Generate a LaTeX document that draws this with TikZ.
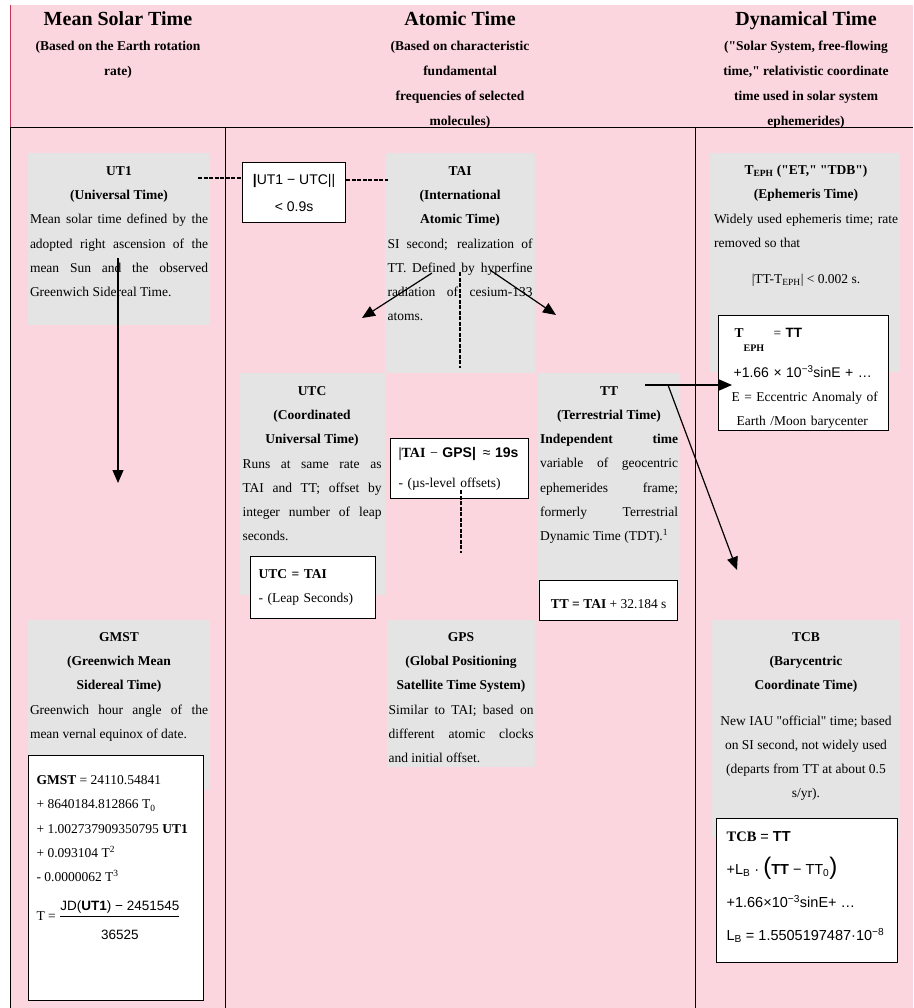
\documentclass[tikz,border=0pt]{standalone}
\usepackage{fontspec}
\setmainfont{Liberation Serif}[Ligatures=TeXOff]
\setsansfont{Liberation Sans}[Ligatures=TeXOff]
\usepackage{xcolor}
\usepackage{tikz}
\usetikzlibrary{arrows.meta, positioning, calc}
\definecolor{sheetpink}{RGB}{251,214,223}
\definecolor{cellgray}{RGB}{228,228,228}
\definecolor{edgered}{RGB}{196,52,88}
\newcommand{\bodysize}{\fontsize{13.5}{24.3}\selectfont}
\newcommand{\headsize}{\fontsize{13.5}{25}\selectfont}
\newcommand{\titlesize}{\fontsize{20}{25}\selectfont}
\newcommand{\bigparen}[1]{{\fontsize{24}{24}\selectfont #1}}
\setlength{\parindent}{0pt}
\setlength{\parskip}{0pt}
\tolerance=10000
\hyphenpenalty=10000

\begin{document}
\begin{tikzpicture}[x=1pt, y=-1pt,
    headtext/.style={anchor=north, align=center, inner sep=0pt, font=\headsize\bfseries},
    celltext/.style={anchor=north, inner sep=0pt, text width=#1, align=justify, font=\bodysize},
    formbox/.style={draw=black, line width=1.2pt, fill=white, anchor=north west, inner sep=0pt, font=\bodysize},
    linkdash/.style={line width=2.8pt, dash pattern=on 4pt off 1.5pt},
    linkarrow/.style={line width=1.2pt, -{Triangle[length=13pt, width=11pt]}}]
    % Sheet and column rules
    \useasboundingbox (0,0) rectangle (913,1008);
    \fill[sheetpink] (10,5) rectangle (913,1008);
    \draw[edgered, line width=1pt] (10,5) -- (10,127);
    \draw[line width=0.8pt] (10,127) -- (913,127);
    \draw[line width=0.8pt] (10,127) -- (10,1008);
    \foreach \x in {225, 695} {
        \draw[line width=0.8pt] (\x,127) -- (\x,1008);
    }

    % Column heads
    \node[headtext] (solarhead) at (118,11) {{\titlesize Mean Solar Time}\\(Based on the Earth rotation\\rate)};
    \node[headtext] (atomichead) at (460,11) {{\titlesize Atomic Time}\\(Based on characteristic\\fundamental\\frequencies of selected\\molecules)};
    \node[headtext] (dynhead) at (806,11) {{\titlesize Dynamical Time}\\("Solar System, free-flowing\\time," relativistic coordinate\\time used in solar system\\ephemerides)};

    % Grey cells
    \foreach \xa/\ya/\xb/\yb in {28/153/210/325, 385/153/535/373, 710/153/900/372,
        240/373/385/595, 538/373/680/595, 28/620/210/790, 387/620/535/767, 712/620/900/838} {
        \fill[cellgray] (\xa,\ya) rectangle (\xb,\yb);
    }

    % Cell texts
    \node[celltext=178pt] (ut1) at (119,166) {{\centering\textbf{UT1}\par\textbf{(Universal Time)}\par}
        Mean solar time defined by the\linebreak adopted right ascension of the\linebreak mean Sun and the observed\linebreak Greenwich Sidereal Time.};
    \node[celltext=145pt] (tai) at (460,166) {{\centering\textbf{TAI}\par\textbf{(International}\par\textbf{Atomic Time)}\par}
        SI second; realization of\linebreak TT. Defined by hyperfine\linebreak radiation of cesium-133\linebreak atoms.};
    \node[celltext=184pt] (teph) at (806,165) {{\centering\textbf{T\textsubscript{EPH} ("ET," "TDB")}\par\textbf{(Ephemeris Time)}\par}
        Widely used ephemeris time; rate\linebreak removed so that\par
        \vspace{12pt}{\centering |TT-T\textsubscript{EPH}| < 0.002 s.\par}};
    \node[celltext=139pt] (utc) at (312,386) {{\centering\textbf{UTC}\par\textbf{(Coordinated}\par\textbf{Universal Time)}\par}
        Runs at same rate as\linebreak TAI and TT; offset by\linebreak integer number of leap\linebreak seconds.};
    \node[celltext=138pt] (tt) at (609,386) {{\centering\textbf{TT}\par\textbf{(Terrestrial Time)}\par}
        \textbf{Independent time}\linebreak variable of geocentric\linebreak ephemerides frame;\linebreak formerly Terrestrial\linebreak Dynamic Time (TDT).\textsuperscript{1}};
    \node[celltext=178pt] (gmst) at (119,632) {{\centering\textbf{GMST}\par\textbf{(Greenwich Mean}\par\textbf{Sidereal Time)}\par}
        Greenwich hour angle of the\linebreak mean vernal equinox of date.};
    \node[celltext=145pt] (gps) at (461,632) {{\centering\textbf{GPS}\par\textbf{(Global Positioning}\par\textbf{Satellite Time System)}\par}
        Similar to TAI; based on\linebreak different atomic clocks\linebreak and initial offset.};
    \node[celltext=184pt] (tcb) at (806,632) {{\centering\textbf{TCB}\par\textbf{(Barycentric}\par\textbf{Coordinate Time)}\par}
        \vspace{11pt}{\centering New IAU "official" time; based\par on SI second, not widely used\par (departs from TT at about 0.5\par s/yr).\par}};

    % Relation boxes
    \node[formbox, minimum width=103pt, minimum height=60pt, align=center,
          font=\sffamily\fontsize{14}{27}\selectfont] (ut1utc) at (242,162)
          {{\bfseries|}UT1 − UTC||\\< 0.9s};
    \node[formbox, minimum height=60pt, text width=122pt, inner xsep=8pt, align=left] (taigps) at (390,438)
          {{\fontsize{14}{24}\selectfont\textbf{|TAI} − \textsf{\textbf{GPS|}}\enspace\textsf{≈ \textbf{19s}}}\\[6pt]- (µs-level offsets)};
    \node[formbox, minimum height=62pt, text width=109pt, inner xsep=8pt, align=left] (utctai) at (250,556)
          {\textbf{UTC = TAI}\\- (Leap Seconds)};
    \node[formbox, minimum width=138pt, minimum height=40pt] (tttai) at (539,580)
          {\rule{0pt}{16pt}\textbf{TT = TAI} + 32.184 s};
    \node[formbox, minimum height=115pt, text width=154pt, inner xsep=8pt, align=left] (tephform) at (718,315)
          {\rule{0pt}{20pt}\hspace*{8pt}\textbf{T}\rlap{\raisebox{-14pt}{\fontsize{10}{10}\selectfont\textbf{EPH}}}\hspace{30pt}= \textsf{\textbf{TT}}\\[13pt]
           \hspace*{7pt}{\sffamily\fontsize{14}{14}\selectfont +1.66 × 10\textsuperscript{−3}sinE + …}\\
           \hspace*{5pt}E = Eccentric Anomaly of\\\hspace*{10pt}Earth /Moon barycenter};
    \node[formbox, inner xsep=8pt, inner ysep=5pt] (gmstform) at (28,755)
          {\parbox[c][235pt][t]{159pt}{\vspace*{15pt}\textbf{GMST} = 24110.54841\\
           + 8640184.812866 T\textsubscript{0}\\
           + 1.002737909350795 \textbf{UT1}\\
           + 0.093104 T\textsuperscript{2}\\
           - 0.0000062 T\textsuperscript{3}\\[14pt]
           T = $\displaystyle\frac{\mbox{\sffamily JD(\textbf{UT1}) − 2451545}}{\rule{0pt}{22pt}\mbox{\sffamily 36525}}$}};
    \node[formbox, inner xsep=10pt, inner ysep=5pt] (tcbform) at (716,818)
          {\parbox[c][134pt][t]{161pt}{\vspace*{8pt}\sffamily\fontsize{14.5}{33}\selectfont
           {\rmfamily\bfseries TCB} = \textbf{TT}\\
           +L\textsubscript{B} · \bigparen{(}\textbf{TT} − TT\textsubscript{0}\bigparen{)}\\
           +1.66×10\textsuperscript{−3}sinE+ …\\
           L\textsubscript{B} = 1.5505197487·10\textsuperscript{−8}}};

    % Links between the time scales
    \coordinate (ut1tail) at (198,178);
    \coordinate (taihead) at (388,180);
    \draw[linkdash] (ut1tail) -- (ut1tail -| ut1utc.west);
    \draw[linkdash] (taihead -| ut1utc.east) -- (taihead);
    \coordinate (taidrop) at (460,272);
    \coordinate (utcmid) at (460,368);
    \draw[linkdash] (taidrop) -- (utcmid);
    \coordinate (gpsdrop) at (461,490);
    \coordinate (gpsmid) at (461,553);
    \draw[linkdash] (gpsdrop) -- (gpsmid);
    \coordinate (tailink) at (432,273);
    \coordinate (utclink) at (362,318);
    \draw[linkarrow] (tailink) -- (utclink);
    \coordinate (taitt) at (490,270);
    \coordinate (ttlink) at (556,315);
    \draw[linkarrow] (taitt) -- (ttlink);
    \coordinate (ut1link) at (118,258);
    \coordinate (gmstlink) at (118,483);
    \draw[linkarrow] (ut1link) -- (gmstlink);
    \coordinate (ttsource) at (645,385);
    \draw[linkarrow] (ttsource) -- ($(ttsource -| tephform.west)+(14,0)$);
    \coordinate (ttfork) at (668,385);
    \coordinate (tcblink) at (737,570);
    \draw[linkarrow] (ttfork) -- (tcblink);
\end{tikzpicture}
\end{document}
